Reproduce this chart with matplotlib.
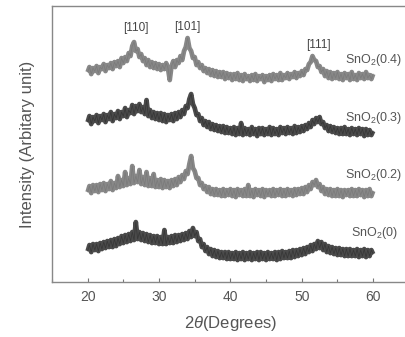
import numpy as np
import matplotlib
matplotlib.use("Agg")
import matplotlib.pyplot as plt
from matplotlib.ticker import MultipleLocator

plt.rcParams['font.family'] = ['Liberation Sans', 'DejaVu Sans']
plt.rcParams['mathtext.fontset'] = 'custom'
plt.rcParams['mathtext.rm'] = 'Liberation Sans'
plt.rcParams['mathtext.it'] = 'Liberation Sans:italic'

# 2theta grid, 0.25 deg step from 20 to 60
two_theta = np.arange(20, 60.001, 0.25)

# stacked patterns (arbitrary units, already offset)
sno2_04 = [
    210, 215, 208, 214, 211, 216, 209, 215, 213, 218, 211, 217, 214, 219, 213, 220,
    216, 221, 215, 224, 219, 225, 221, 229, 226, 236, 240, 231, 233, 225, 228, 221,
    224, 217, 222, 215, 220, 214, 219, 213, 218, 212, 217, 213, 219, 214, 202, 216,
    221, 215, 222, 219, 226, 222, 231, 235, 244, 234, 231, 224, 225, 217, 220, 214,
    217, 211, 214, 209, 213, 207, 212, 206, 211, 205, 210, 205, 210, 203, 209, 204,
    208, 202, 208, 203, 209, 202, 207, 201, 208, 203, 206, 201, 207, 202, 208, 201,
    206, 203, 207, 200, 206, 202, 207, 201, 208, 203, 207, 202, 209, 202, 207, 204,
    209, 203, 208, 205, 210, 204, 209, 206, 211, 207, 213, 212, 218, 220, 226, 222,
    221, 215, 216, 210, 213, 206, 211, 204, 210, 203, 209, 204, 210, 203, 208, 202,
    209, 204, 208, 202, 210, 203, 207, 202, 209, 204, 208, 203, 210, 204, 207, 203,
    208,
]
sno2_03 = [
    160, 166, 158, 165, 161, 167, 159, 166, 162, 168, 160, 167, 163, 170, 161, 168,
    164, 171, 163, 170, 166, 174, 165, 172, 169, 177, 168, 176, 171, 178, 170, 175,
    168, 182, 166, 172, 164, 170, 163, 169, 162, 169, 161, 168, 160, 167, 162, 168,
    161, 169, 163, 170, 165, 172, 168, 176, 174, 183, 188, 178, 174, 167, 168, 161,
    164, 157, 161, 155, 160, 153, 158, 152, 157, 151, 156, 150, 156, 149, 155, 149,
    154, 148, 155, 147, 154, 148, 159, 147, 154, 148, 153, 147, 155, 148, 153, 146,
    154, 148, 154, 147, 153, 148, 155, 147, 154, 148, 153, 147, 155, 149, 154, 148,
    155, 149, 154, 148, 156, 149, 155, 150, 156, 151, 157, 153, 159, 155, 162, 158,
    164, 160, 165, 158, 160, 154, 157, 151, 156, 150, 155, 149, 154, 148, 154, 148,
    155, 148, 153, 147, 154, 148, 153, 147, 154, 148, 153, 146, 153, 147, 152, 147,
    151,
]
sno2_02 = [
    90, 96, 89, 97, 91, 97, 90, 98, 92, 99, 91, 98, 93, 101, 92, 99,
    94, 106, 95, 102, 96, 110, 97, 104, 98, 116, 99, 106, 100, 112, 98, 105,
    97, 110, 96, 104, 96, 108, 95, 102, 95, 103, 94, 102, 95, 101, 94, 102,
    96, 103, 97, 105, 100, 107, 103, 111, 108, 118, 126, 114, 111, 104, 104, 97,
    99, 93, 96, 90, 95, 88, 93, 87, 93, 87, 92, 86, 93, 86, 92, 87,
    93, 86, 92, 85, 93, 87, 92, 86, 93, 86, 97, 86, 92, 85, 93, 87,
    92, 86, 93, 85, 92, 87, 92, 86, 93, 86, 92, 87, 93, 86, 92, 86,
    93, 87, 92, 86, 93, 87, 93, 88, 94, 88, 95, 90, 97, 93, 100, 97,
    102, 95, 98, 91, 95, 88, 93, 87, 93, 86, 92, 86, 93, 86, 92, 85,
    92, 87, 92, 86, 93, 86, 92, 86, 93, 87, 92, 85, 92, 86, 93, 86,
    91,
]
sno2_0 = [
    31, 37, 30, 38, 32, 38, 31, 39, 33, 40, 34, 41, 35, 42, 35, 43,
    36, 44, 38, 46, 39, 47, 40, 48, 41, 50, 42, 60, 43, 50, 42, 49,
    41, 48, 40, 47, 39, 46, 39, 46, 38, 45, 38, 52, 38, 45, 39, 46,
    39, 47, 40, 47, 41, 48, 42, 49, 43, 51, 45, 54, 46, 50, 41, 43,
    35, 38, 31, 35, 28, 33, 26, 32, 25, 31, 24, 30, 24, 30, 23, 30,
    23, 29, 23, 30, 22, 29, 23, 30, 22, 29, 23, 30, 22, 29, 23, 30,
    22, 30, 23, 29, 22, 30, 23, 29, 23, 30, 22, 30, 23, 31, 24, 30,
    24, 31, 24, 32, 25, 32, 26, 33, 27, 34, 28, 35, 30, 37, 31, 38,
    33, 41, 34, 40, 32, 38, 30, 36, 29, 35, 28, 34, 27, 34, 27, 33,
    26, 33, 26, 33, 26, 32, 26, 33, 25, 32, 26, 33, 25, 32, 26, 32,
    28,
]

series = [sno2_04, sno2_03, sno2_02, sno2_0]
names = ['SnO$_2$(0.4)', 'SnO$_2$(0.3)', 'SnO$_2$(0.2)', 'SnO$_2$(0)']
colors = ['#737373', '#2b2b2b', '#737373', '#2b2b2b']
name_pos = [(64.1, 222), (64.1, 164), (64.1, 107), (63.5, 49)]

peak_labels = ['[110]', '[101]', '[111]']
peak_pos = [(26.7, 254), (34.0, 255), (52.4, 237)]

fig = plt.figure(figsize=(4.06, 3.37), dpi=100)
ax = fig.add_axes([0.128, 0.163, 0.879, 0.819])

for y, c in zip(series, colors):
    # thick stroke so the fast jitter merges into a noisy band
    ax.plot(two_theta, y, color=c, lw=3.4, alpha=0.85,
            solid_joinstyle='round', solid_capstyle='butt')
    ax.plot(two_theta, y, color=c, lw=0.6, alpha=0.6)

for name, (x, y) in zip(names, name_pos):
    ax.text(x, y, name, ha='right', va='center', fontsize=9, color='#555555')

for lab, (x, y) in zip(peak_labels, peak_pos):
    ax.text(x, y, lab, ha='center', va='center', fontsize=8.5, color='#444444')

ax.set_xlim(15, 65)
ax.set_ylim(0, 276)
ax.set_yticks([])
ax.xaxis.set_major_locator(MultipleLocator(10))
ax.xaxis.set_minor_locator(MultipleLocator(5))
ax.tick_params(axis='x', which='major', direction='in', length=3, width=0.8,
               colors='#777777', labelcolor='#555555', labelsize=10, pad=6)
ax.tick_params(axis='x', which='minor', direction='in', length=2, width=0.8,
               colors='#777777')
for s in ax.spines.values():
    s.set_color('#888888')
    s.set_linewidth(1.0)

ax.set_xlabel(r'2$\theta$(Degrees)', fontsize=12, color='#555555', labelpad=7)
ax.set_ylabel('Intensity (Arbitary unit)', fontsize=12, color='#555555', labelpad=12)

fig.savefig('out.png', dpi=100)
